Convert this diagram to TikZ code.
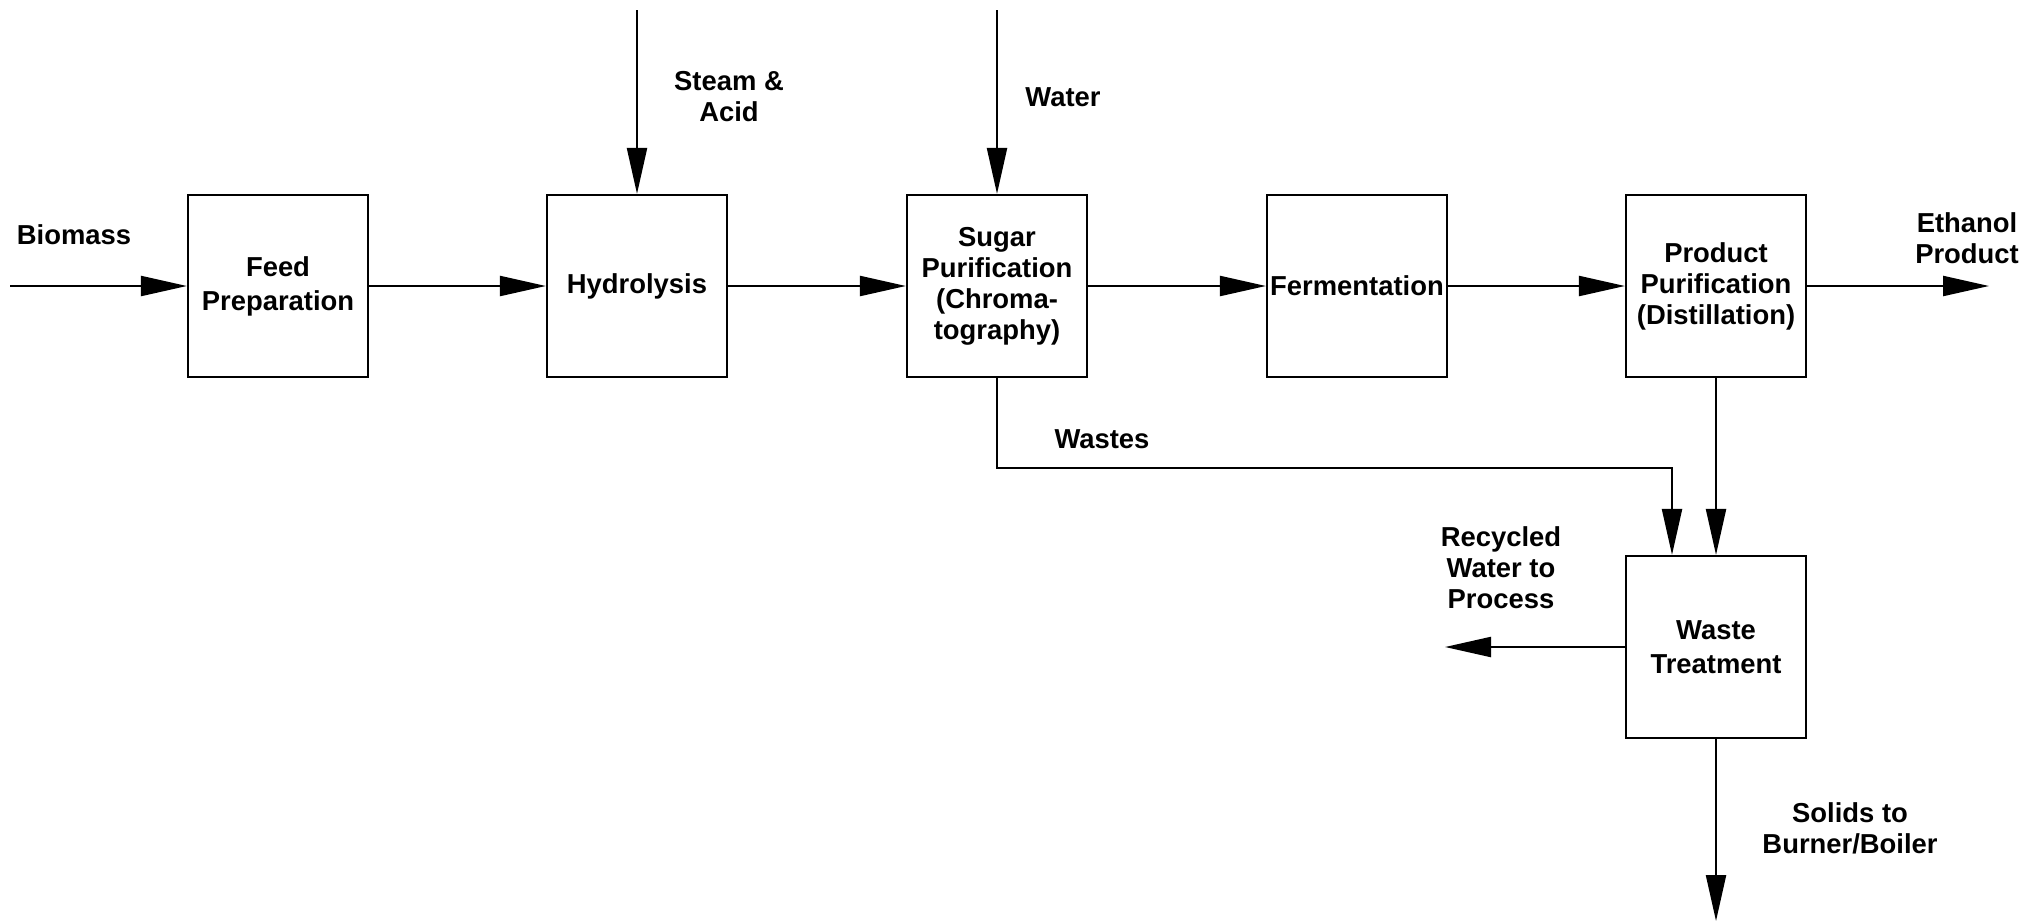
\documentclass[tikz,border=0pt]{standalone}
\usepackage{fontspec}
\setmainfont{Liberation Sans}
\usepackage{tikz}
\usetikzlibrary{arrows.meta,calc}
\tikzset{
  unit/.style ={draw=black,fill=white,line width=1.1pt,align=center,inner sep=0pt,
                minimum width=90pt,minimum height=91pt},
  flow/.style ={-{Triangle[length=23pt,width=10pt]},draw=black,line width=1.1pt},
  lbl/.style  ={align=center,inner sep=0pt},
}

\begin{document}
\begin{tikzpicture}[x=0.5pt, y=-0.5pt,
  font=\bfseries\fontsize{13.7}{15.5}\selectfont,
]
\useasboundingbox (0,0) rectangle (2038,921);

\def\Y{286}   % main stream line

% process units
\node[unit] (feed)  at (278,\Y)  {Feed\\[1.5pt]Preparation};
\node[unit] (hydro) at (637,\Y)  {Hydrolysis};
\node[unit] (sugar) at (997,\Y)  {Sugar\\Purification\\(Chroma-\\tography)};
\node[unit] (ferm)  at (1357,\Y) {Fermentation};
\node[unit] (prod)  at (1716,\Y) {Product\\Purification\\(Distillation)};
\node[unit] (waste) at (1716,647) {Waste\\[1.5pt]Treatment};

% free stream ends
\coordinate (bioIn)   at (10,\Y);
\coordinate (acidIn)  at (637,10);
\coordinate (waterIn) at (997,10);
\coordinate (ethOut)  at (1989,\Y);
\coordinate (recOut)  at (1445,647);
\coordinate (solOut)  at (1716,921);
\coordinate (wbend)   at (1672,468);

\draw[flow] (bioIn) -- (feed);
\foreach \a/\b in {feed/hydro,hydro/sugar,sugar/ferm,ferm/prod}{%
  \draw[flow] (\a) -- (\b);}
\draw[flow] (prod) -- (ethOut);
\draw[flow] (acidIn) -- (hydro);
\draw[flow] (waterIn) -- (sugar);

% waste streams
\draw[flow] (sugar.south) |- (wbend) -- (wbend |- waste.north);
\draw[flow] (prod) -- (waste);
\draw[flow] (waste) -- (recOut);
\draw[flow] (waste) -- (solOut);

% stream labels
\node[lbl] (lbio)   at (74,235)    {Biomass};
\node[lbl] (lacid)  at (729,97)    {Steam \&\\Acid};
\node[lbl] (lwater) at (1063,97)   {Water};
\node[lbl] (lwaste) at (1102,439)  {Wastes};
\node[lbl] (leth)   at (1967,238)  {Ethanol\\Product};
\node[lbl] (lrec)   at (1501,568)  {Recycled\\Water to\\Process};
\node[lbl] (lsol)   at (1850,828)  {Solids to\\Burner/Boiler};
\end{tikzpicture}
\end{document}
